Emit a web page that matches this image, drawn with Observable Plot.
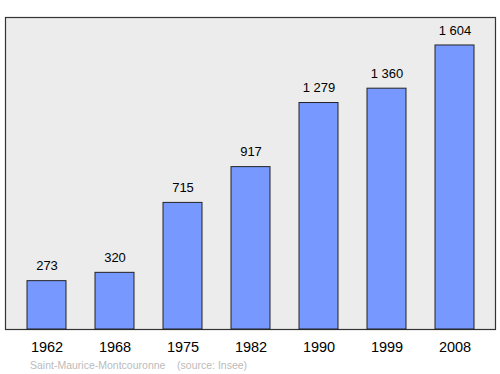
<!DOCTYPE html>
<html>
<head>
<meta charset="utf-8">
<script src="https://cdn.jsdelivr.net/npm/d3@7"></script>
<script src="https://cdn.jsdelivr.net/npm/@observablehq/plot@0.6"></script>
<style>
  body { margin: 0; background: #fff; font-family: "Liberation Sans", Arial, sans-serif; }
  #caption { margin-left: 30px; font-size: 10.5px; line-height: 18px; color: #bbbbbb; white-space: pre; }
</style>
</head>
<body>
<div id="chart"></div>
<div id="caption">Saint-Maurice-Montcouronne    (source: Insee)</div>
<script>
const years = ["1962", "1968", "1975", "1982", "1990", "1999", "2008"];
const population = [273, 320, 715, 917, 1279, 1360, 1604];

const data = years.map((y, i) => ({year: y, value: population[i]}));
const fmt = v => d3.format(",")(v).replace(/,/g, " ");

const chart = Plot.plot({
  width: 500,
  height: 356,
  marginLeft: 26,
  marginRight: 25,
  marginTop: 17,
  marginBottom: 27,
  style: {fontFamily: '"Liberation Sans", Arial, sans-serif', fontSize: "14px", background: "#fff"},
  x: {domain: years, paddingInner: 0.43, paddingOuter: 0, label: null},
  y: {domain: [0, 1762], axis: null},
  marks: [
    Plot.frame({fill: "#ececec", stroke: "#333", strokeWidth: 1.2, insetLeft: -21, insetRight: -20}),
    Plot.barY(data, {x: "year", y: "value", fill: "#7799ff", stroke: "#222", strokeWidth: 1}),
    Plot.text(data, {x: "year", y: "value", text: d => fmt(d.value), dy: -15, fontSize: 13, fill: "#000"}),
    Plot.axisX({tickSize: 0, tickPadding: 12, fontSize: 14.5, label: null, color: "#000"})
  ]
});
document.getElementById("chart").appendChild(chart);
</script>
</body>
</html>
